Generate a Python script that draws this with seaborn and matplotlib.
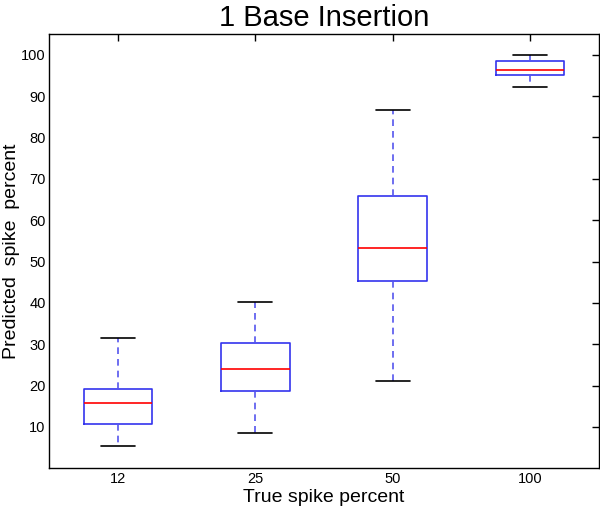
import numpy as np
import pandas as pd
import matplotlib
matplotlib.use("Agg")
import matplotlib.pyplot as plt
import seaborn as sns

# summary values: low whisker, Q1, median, Q3, high whisker
categories = ["12", "25", "50", "100"]
low = [5.4, 8.5, 21.1, 92.2]
q1 = [10.8, 18.7, 45.2, 95.2]
median = [15.8, 23.9, 53.2, 96.4]
q3 = [19.2, 30.2, 65.9, 98.4]
high = [31.6, 40.3, 86.6, 100.0]

rows = []
for i, cat in enumerate(categories):
    for v in (low[i], q1[i], median[i], q3[i], high[i]):
        rows.append({"spike": cat, "pred": v})
df = pd.DataFrame(rows)

sns.set_style("white")
plt.rcParams["font.family"] = ["Liberation Sans", "DejaVu Sans"]
plt.rcParams["text.color"] = "black"
plt.rcParams["axes.labelcolor"] = "black"
plt.rcParams["xtick.color"] = "black"
plt.rcParams["ytick.color"] = "black"

fig = plt.figure(figsize=(6, 5.09), dpi=100)
ax = fig.add_axes([0.082, 0.08, 0.916, 0.853])

sns.boxplot(data=df, x="spike", y="pred", order=categories, ax=ax,
            fill=False, width=0.5, whis=(0, 100), linewidth=1.2,
            boxprops=dict(color="#3333ee"),
            medianprops=dict(color="red"),
            whiskerprops=dict(color="#5555ee", linestyle=(0, (4, 3))),
            capprops=dict(color="black"),
            showfliers=False)

ax.set_ylim(0, 105)
ax.set_xlim(-0.5, 3.5)
ax.set_yticks(range(10, 101, 10))
ax.tick_params(direction="in", top=True, right=True, labelsize=10.5,
               length=5, width=1, color="black", pad=2.5)
for s in ax.spines.values():
    s.set_color("black")
    s.set_linewidth(1)

ax.set_title("1 Base Insertion", fontsize=21)
ax.set_xlabel("True spike percent", fontsize=14, labelpad=2)
ax.set_ylabel("Predicted  spike  percent", fontsize=14, labelpad=1)

plt.savefig("out.png", dpi=100)
